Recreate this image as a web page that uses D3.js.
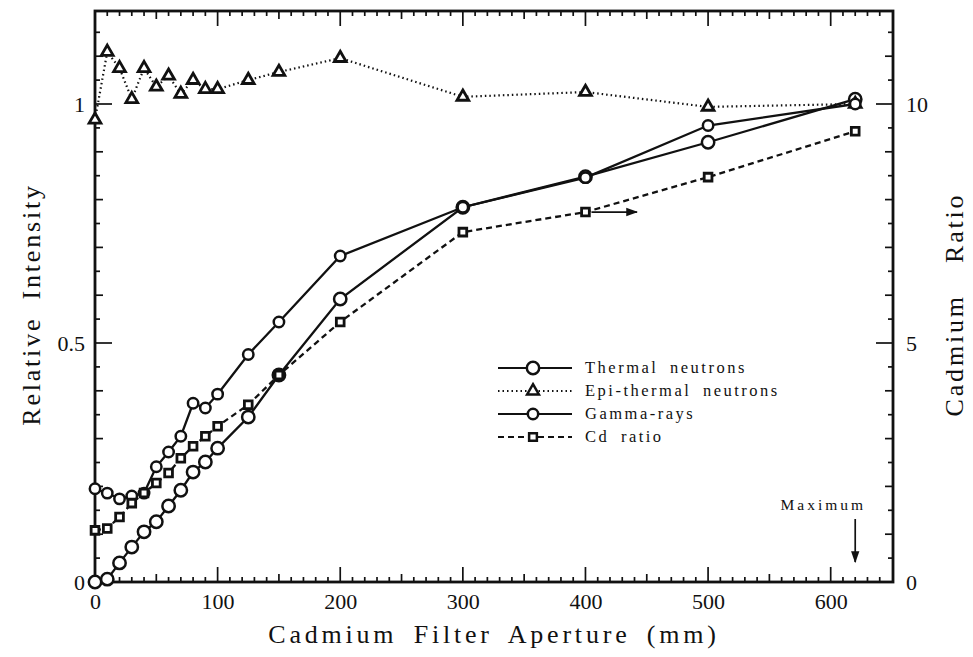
<!DOCTYPE html>
<html>
<head>
<meta charset="utf-8">
<script src="https://cdn.jsdelivr.net/npm/d3@7"></script>
<style>
  body { margin: 0; background: #fff; }
</style>
</head>
<body>
<svg id="chart" width="973" height="657" font-family="Liberation Serif"></svg>
<script>
// aperture (mm)
const apertureFine = [0, 10, 20, 30, 40, 50, 60, 70, 80, 90, 100, 125, 150, 200, 300, 400, 500, 620]

// relative intensity (left axis)
const thermal = [0, 0.006, 0.04, 0.073, 0.105, 0.126, 0.159, 0.192, 0.23, 0.251, 0.28, 0.345, 0.433, 0.592, 0.784, 0.848, 0.92, 1.01]
const epiThermal = [0.967, 1.109, 1.075, 1.01, 1.075, 1.036, 1.059, 1.021, 1.05, 1.031, 1.031, 1.05, 1.067, 1.096, 1.015, 1.025, 0.994, 1.0]
const gamma = [0.195, 0.186, 0.174, 0.18, 0.186, 0.241, 0.272, 0.305, 0.374, 0.364, 0.393, 0.476, 0.544, 0.682, 0.784, 0.846, 0.955, 1.0]

// cadmium ratio (right axis)
const cdRatio = [1.08, 1.12, 1.36, 1.65, 1.86, 2.07, 2.28, 2.59, 2.84, 3.05, 3.26, 3.71, 4.33, 5.44, 7.32, 7.74, 8.47, 9.43]

const xTickLabels = [0, 100, 200, 300, 400, 500, 600]
const leftTickLabels = [0, 0.5, 1]
const rightTickLabels = [0, 5, 10]

const legendNames = ['Thermal neutrons', 'Epi-thermal neutrons', 'Gamma-rays', 'Cd ratio']

const FONT = 'Liberation Serif'

const svg = d3.select('#chart')

const pLeft = 95
const pRight = 893
const pTop = 11
const pBottom = 582

const x = d3.scaleLinear().domain([0, 650]).range([pLeft, pRight - 1])
const yL = d3.scaleLinear().domain([0, 1]).range([pBottom, 104])
const yR = d3.scaleLinear().domain([0, 10]).range([pBottom, 104])

// ---- ticks (drawn inward on all four sides)
const tickG = svg.append('g').attr('stroke', '#111').attr('stroke-width', 1.7)

const xt = d3.range(10, 650, 10)
const xLen = (v) => v % 100 === 0 ? 15 : (v % 50 === 0 ? 8 : 5)
tickG.selectAll('.xb').data(xt).enter().append('line')
  .attr('x1', (d) => x(d)).attr('x2', (d) => x(d))
  .attr('y1', pBottom).attr('y2', (d) => pBottom - xLen(d))
tickG.selectAll('.xt').data(xt).enter().append('line')
  .attr('x1', (d) => x(d)).attr('x2', (d) => x(d))
  .attr('y1', pTop).attr('y2', (d) => pTop + xLen(d))

const yt = d3.range(0.05, 1.19, 0.05).map((d) => Math.round(d * 100) / 100)
const yLen = (v) => Math.abs(v * 2 - Math.round(v * 2)) < 1e-6 ? 17 : (Math.abs(v * 10 - Math.round(v * 10)) < 1e-6 ? 8 : 5)
tickG.selectAll('.yl').data(yt).enter().append('line')
  .attr('x1', pLeft).attr('x2', (d) => pLeft + yLen(d))
  .attr('y1', (d) => yL(d)).attr('y2', (d) => yL(d))
tickG.selectAll('.yr').data(yt).enter().append('line')
  .attr('x1', pRight).attr('x2', (d) => pRight - yLen(d))
  .attr('y1', (d) => yL(d)).attr('y2', (d) => yL(d))

// ---- frame
svg.append('rect')
  .attr('x', pLeft).attr('y', pTop)
  .attr('width', pRight - pLeft).attr('height', pBottom - pTop)
  .attr('fill', 'none').attr('stroke', '#111').attr('stroke-width', 2.8)

// ---- tick labels via axes
const xAxis = svg.append('g')
  .attr('transform', `translate(0,${pBottom})`)
  .call(d3.axisBottom(x).tickValues(xTickLabels).tickSize(0).tickPadding(11).tickFormat(d3.format('d')))
const yAxisL = svg.append('g')
  .attr('transform', `translate(${pLeft},0)`)
  .call(d3.axisLeft(yL).tickValues(leftTickLabels).tickSize(0).tickPadding(10).tickFormat((d) => d))
const yAxisR = svg.append('g')
  .attr('transform', `translate(${pRight},0)`)
  .call(d3.axisRight(yR).tickValues(rightTickLabels).tickSize(0).tickPadding(13).tickFormat((d) => d))

for (const g of [xAxis, yAxisL, yAxisR]) {
  g.attr('font-family', FONT).attr('font-size', 22)
  g.select('.domain').remove()
  g.selectAll('text').attr('fill', '#111')
}

// ---- axis titles
svg.append('text')
  .attr('x', (pLeft + pRight) / 2).attr('y', 643)
  .attr('text-anchor', 'middle')
  .attr('font-family', FONT).attr('font-size', 26).attr('fill', '#111')
  .attr('letter-spacing', 3.8).attr('word-spacing', 6)
  .text('Cadmium Filter Aperture (mm)')
svg.append('text')
  .attr('transform', `translate(40,${(pTop + pBottom) / 2 + 8}) rotate(-90)`)
  .attr('text-anchor', 'middle')
  .attr('font-family', FONT).attr('font-size', 26).attr('fill', '#111')
  .attr('letter-spacing', 2.8).attr('word-spacing', 8)
  .text('Relative Intensity')
svg.append('text')
  .attr('transform', `translate(963,${(pTop + pBottom) / 2 + 8}) rotate(-90)`)
  .attr('text-anchor', 'middle')
  .attr('font-family', FONT).attr('font-size', 26).attr('fill', '#111')
  .attr('letter-spacing', 2.8).attr('word-spacing', 22)
  .text('Cadmium Ratio')

// ---- series
const series = [
  {name: legendNames[0], vals: thermal, y: yL, dash: null, marker: 'circle'},
  {name: legendNames[1], vals: epiThermal, y: yL, dash: '1.5,3', marker: 'triangle'},
  {name: legendNames[2], vals: gamma, y: yL, dash: null, marker: 'hexagon'},
  {name: legendNames[3], vals: cdRatio, y: yR, dash: '6,4', marker: 'square'},
]

const symbolPath = {
  circle: d3.symbol(d3.symbolCircle, 120)(),
  triangle: d3.symbol(d3.symbolTriangle, 60)(),
  hexagon: d3.symbol(d3.symbolCircle, 85)(),
  square: d3.symbol(d3.symbolSquare, 60)(),
}

const plot = svg.append('g')
series.forEach((s) => {
  const pts = apertureFine.map((a, i) => [a, s.vals[i]])
  plot.append('path')
    .datum(pts)
    .attr('fill', 'none')
    .attr('stroke', '#111')
    .attr('stroke-width', s.dash === '1.5,3' ? 2.2 : 2.3)
    .attr('stroke-dasharray', s.dash)
    .attr('d', d3.line().x((d) => x(d[0])).y((d) => s.y(d[1])))
})
series.forEach((s) => {
  const pts = apertureFine.map((a, i) => [a, s.vals[i]])
  plot.selectAll(null).data(pts).enter().append('path')
    .attr('transform', (d) => `translate(${x(d[0])},${s.y(d[1])})`)
    .attr('d', symbolPath[s.marker])
    .attr('fill', '#fff')
    .attr('stroke', '#111')
    .attr('stroke-width', s.marker === 'triangle' || s.marker === 'square' ? 2.8 : 2.5)
})

// ---- arrow marker definition
svg.append('defs').append('marker')
  .attr('id', 'head')
  .attr('viewBox', '0 0 10 10')
  .attr('refX', 9).attr('refY', 5)
  .attr('markerWidth', 7).attr('markerHeight', 7)
  .attr('orient', 'auto')
  .append('path').attr('d', 'M0,1.5L10,5L0,8.5Z').attr('fill', '#111')

// arrow pointing the Cd ratio curve to its (right) axis
svg.append('line')
  .attr('x1', x(400) + 6).attr('x2', x(442))
  .attr('y1', yR(cdRatio[15])).attr('y2', yR(cdRatio[15]))
  .attr('stroke', '#111').attr('stroke-width', 1.7)
  .attr('marker-end', 'url(#head)')

// "Maximum" annotation
svg.append('text')
  .attr('x', x(594)).attr('y', 510)
  .attr('text-anchor', 'middle')
  .attr('font-family', FONT).attr('font-size', 15.5).attr('fill', '#111')
  .attr('letter-spacing', 3)
  .text('Maximum')
svg.append('line')
  .attr('x1', x(620)).attr('x2', x(620))
  .attr('y1', 519).attr('y2', 562)
  .attr('stroke', '#111').attr('stroke-width', 1.7)
  .attr('marker-end', 'url(#head)')

// ---- legend
const legend = svg.append('g').attr('transform', 'translate(498,368)')
series.forEach((s, i) => {
  const row = legend.append('g').attr('transform', `translate(0,${i * 23})`)
  row.append('line')
    .attr('x1', 0).attr('x2', 74)
    .attr('stroke', '#111').attr('stroke-width', 2.2)
    .attr('stroke-dasharray', s.dash)
  row.append('path')
    .attr('transform', 'translate(35,0)')
    .attr('d', symbolPath[s.marker])
    .attr('fill', '#fff').attr('stroke', '#111').attr('stroke-width', 2.5)
  row.append('text')
    .attr('x', 87).attr('y', 5)
    .attr('font-family', FONT).attr('font-size', 16.5).attr('fill', '#111')
    .attr('letter-spacing', 2.5).attr('word-spacing', 5)
    .text(s.name)
})
</script>
</body>
</html>
